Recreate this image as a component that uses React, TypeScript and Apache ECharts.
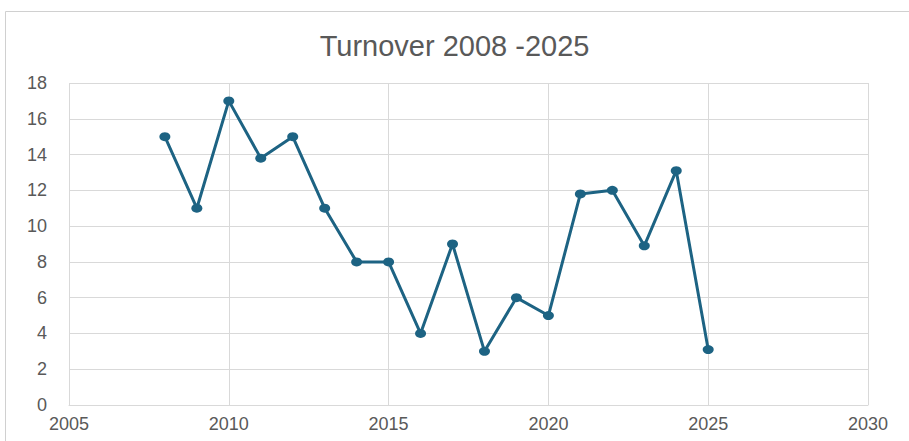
import React, { useEffect, useRef } from "react";
import * as echarts from "echarts";

const years = [2008, 2009, 2010, 2011, 2012, 2013, 2014, 2015, 2016, 2017, 2018, 2019, 2020, 2021, 2022, 2023, 2024, 2025];
const turnover = [15, 11, 17, 13.8, 15, 11, 8, 8, 4, 9, 3, 6, 5, 11.8, 12, 8.9, 13.1, 3.1];
const titleText = "Turnover 2008 -2025";

export default function App() {
  const ref = useRef<HTMLDivElement>(null);
  useEffect(() => {
    document.body.style.margin = "0";
    const chart = echarts.init(ref.current!, null, { renderer: "svg" });
    const font = "'Liberation Sans', Arial, sans-serif";
    chart.setOption({
      animation: false,
      backgroundColor: "#ffffff",
      title: {
        text: titleText,
        left: "center",
        top: 26,
        textStyle: { fontFamily: font, fontSize: 29, fontWeight: "normal", color: "#595959" },
      },
      graphic: [
        {
          type: "rect",
          shape: { x: 5.5, y: 11.5, width: 960, height: 500 },
          style: { fill: "none", stroke: "#d0d0d0", lineWidth: 1 },
          silent: true,
        },
      ],
      grid: { left: 69, right: 41, top: 83, bottom: 36 },
      xAxis: {
        type: "value",
        min: 2005,
        max: 2030,
        interval: 5,
        axisLine: { show: true, lineStyle: { color: "#d9d9d9", width: 1 } },
        axisTick: { show: false },
        splitLine: { show: true, lineStyle: { color: "#d9d9d9", width: 1 } },
        axisLabel: {
          color: "#595959",
          fontFamily: font,
          fontSize: 18,
          margin: 10,
          formatter: (v: number) => String(v),
        },
      },
      yAxis: {
        type: "value",
        min: 0,
        max: 18,
        interval: 2,
        axisLine: { show: false },
        axisTick: { show: false },
        splitLine: { show: true, lineStyle: { color: "#d9d9d9", width: 1 } },
        axisLabel: {
          color: "#595959",
          fontFamily: font,
          fontSize: 18,
          margin: 22,
          padding: [0, 0, 5, 0],
        },
      },
      series: [
        {
          type: "line",
          data: years.map((y, i) => [y, turnover[i]]),
          symbol: "circle",
          symbolSize: [11, 9],
          lineStyle: { color: "#1d6383", width: 3 },
          itemStyle: { color: "#1d6383" },
        },
      ],
    });
    return () => chart.dispose();
  }, []);
  return <div ref={ref} style={{ position: "absolute", left: 0, top: 0, width: 909, height: 441 }} />;
}
